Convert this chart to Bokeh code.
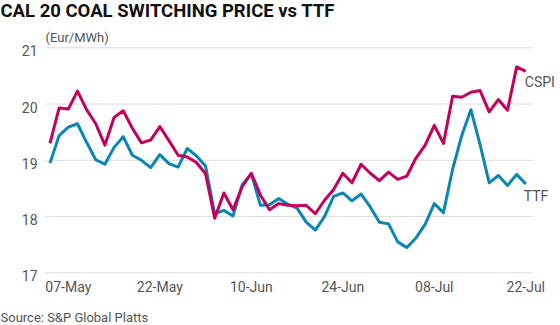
from bokeh.plotting import figure
from bokeh.models import Range1d
from bokeh.core.properties import value
from bokeh.embed import file_html
from bokeh.resources import INLINE

# ---- data (trading-day index, values in Eur/MWh) ----
cspi = [19.30, 19.93, 19.91, 20.23, 19.90, 19.65, 19.27, 19.76, 19.88, 19.57,
        19.31, 19.36, 19.60, 19.35, 19.09, 19.06, 18.96, 18.76, 17.97, 18.42,
        18.12, 18.53, 18.77, 18.38, 18.12, 18.23, 18.20, 18.19, 18.20, 18.05,
        18.29, 18.48, 18.77, 18.60, 18.93, 18.77, 18.64, 18.79, 18.66, 18.72,
        19.04, 19.27, 19.62, 19.30, 20.14, 20.12, 20.21, 20.24, 19.86, 20.08,
        19.89, 20.66, 20.58]
ttf = [18.95, 19.44, 19.59, 19.65, 19.32, 19.01, 18.93, 19.23, 19.42, 19.09,
       19.00, 18.87, 19.10, 18.94, 18.88, 19.21, 19.08, 18.90, 18.05, 18.11,
       18.01, 18.56, 18.76, 18.20, 18.21, 18.32, 18.22, 18.15, 17.90, 17.76,
       18.00, 18.36, 18.42, 18.28, 18.40, 18.17, 17.90, 17.87, 17.55, 17.45,
       17.62, 17.86, 18.23, 18.07, 18.84, 19.44, 19.90, 19.28, 18.60, 18.73,
       18.55, 18.75, 18.58]
day_index = list(range(len(cspi)))
tick_positions = [2, 12, 22, 32, 42, 52]
tick_labels = ["07-May", "22-May", "10-Jun", "24-Jun", "08-Jul", "22-Jul"]
y_ticks = [17, 18, 19, 20, 21]
y_tick_labels = ["17", "18", "19", "20", "21"]
series_names = ["CSPI", "TTF"]

TITLE = "CAL 20 COAL SWITCHING PRICE vs TTF"
UNIT = "(Eur/MWh)"
SOURCE = "Source: S&P Global Platts"

MAGENTA = "#C4005E"
TEAL = "#0A86B3"
GREY = "#555555"
GRID = "#dddddd"
FONT = "Roboto"

W, H = 560, 325
# page layout: the whole canvas is the plotting frame
PX_PER_DAY = 9.15
PX_PER_UNIT = 56.25
FIRST_PT_PX = 49.5          # pixel x of the first point
TOP_TICK_PX = 47.3          # pixel y of the 21 gridline

x_start = -FIRST_PT_PX / PX_PER_DAY
x_end = x_start + W / PX_PER_DAY
y_end = y_ticks[-1] + TOP_TICK_PX / PX_PER_UNIT
y_start = y_end - H / PX_PER_UNIT


def dx(px):
    return x_start + px / PX_PER_DAY


def dy(py):
    return y_end - py / PX_PER_UNIT


last = day_index[-1]
grid_x0 = dx(45)
grid_x1 = last + 0.73

p = figure(width=W, height=H, output_backend="svg", toolbar_location=None,
           x_range=Range1d(x_start, x_end), y_range=Range1d(y_start, y_end),
           min_border=0, title=None)
p.outline_line_color = None
p.background_fill_color = "white"
p.border_fill_color = "white"
p.xaxis.visible = False
p.yaxis.visible = False
p.xgrid.grid_line_color = None
p.ygrid.grid_line_color = None

# horizontal gridlines
n = len(y_ticks)
p.segment(x0=[grid_x0] * n, y0=y_ticks, x1=[grid_x1] * n, y1=y_ticks,
          line_color=GRID, line_width=1)

# series
p.line(day_index, ttf, line_color=TEAL, line_width=3, line_join="round")
p.line(day_index, cspi, line_color=MAGENTA, line_width=3, line_join="round")

common = dict(text_font=value(FONT), text_color=GREY, text_baseline="middle")

# series labels just below each line's end
p.text(x=[last], y=[cspi[-1]], text=[series_names[0]], x_offset=-1, y_offset=11,
       text_font_size="14px", text_align="left", **common)
p.text(x=[last], y=[ttf[-1]], text=[series_names[1]], x_offset=-2, y_offset=12,
       text_font_size="14px", text_align="left", **common)

# y tick labels
p.text(x=[dx(37)] * n, y=y_ticks, text=y_tick_labels, y_offset=3,
       text_font_size="14px", text_align="right", **common)

# x tick labels
p.text(x=tick_positions, y=[y_ticks[0]] * len(tick_positions), text=tick_labels,
       y_offset=14, text_font_size="14px", text_align="center", **common)

# title, unit, source
p.text(x=[dx(0)], y=[dy(10.5)], text=[TITLE], text_font=value(FONT),
       text_font_size="18.5px", text_font_style="bold", text_color="#111111",
       text_baseline="middle", text_align="left")
p.text(x=[dx(45)], y=[dy(37.4)], text=[UNIT], text_font_size="13px",
       text_align="left", **common)
p.text(x=[dx(0)], y=[dy(316.7)], text=[SOURCE], text_font_size="13px",
       text_align="left", **common)

open("out.html", "w").write(file_html(p, INLINE))
